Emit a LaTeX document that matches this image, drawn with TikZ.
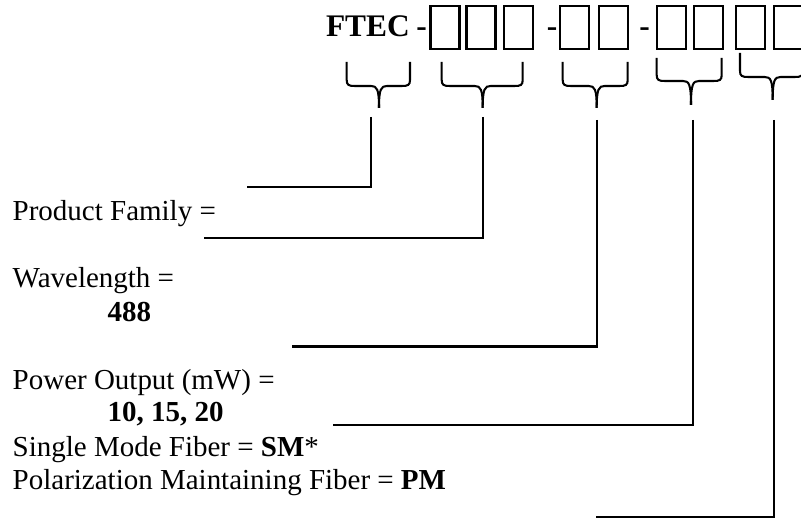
\documentclass[tikz,border=0pt]{standalone}
\usepackage{fontspec}
\setmainfont{Liberation Serif}
\usepackage{tikz}
\definecolor{my_black}{HTML}{000000}

\begin{document}
\begin{tikzpicture}[
    x=0.414pt, y=-0.414pt,
    line width=0.85pt, my_black,
    label_text/.style={anchor=base west, inner sep=0pt, font=\fontsize{12}{14}\selectfont},
    code_text/.style={anchor=base west, inner sep=0pt, font=\fontsize{13}{16}\selectfont\bfseries}
]

% Frame: 801 x 519 px, y counted downwards from the top edge
\useasboundingbox (0,0) rectangle (801,519);

% Part number: FTEC - [][][] - [][] - [][] [][]
\node[code_text] (ftec) at (325,37) {FTEC};
\foreach \dx [count=\i] in {421.5, 552, 644.5}
    \node[code_text, anchor=base] (dash\i) at (\dx,37) {-};

% Empty code boxes (last one runs off the right edge)
\foreach \bx in {430.5, 466.5, 504, 560, 599, 657, 694, 736, 774}
    \draw (\bx,6) rectangle +(29,43);

% Braces under each group:  left x / right x / left top / right top / bottom / tip x / tip y
\foreach \bl/\br/\tl/\tr/\bb/\bm/\tp in {
    346.7/410/62/62/86/379/108,
    441.7/522.7/62/62/86/482.7/108,
    562.7/627.7/62/62/86/596.7/108,
    656.7/721.7/58/58/81/691/105,
    740/803/53/68/77/772.7/100} {
    \draw (\bl,\tl) -- (\bl,\bb-6) .. controls (\bl,\bb-1) and (\bl+2,\bb) .. (\bl+8,\bb)
        -- (\bm-8,\bb) .. controls (\bm-2,\bb) and (\bm,\bb+3) .. (\bm,\tp);
    \draw (\br,\tr) -- (\br,\bb-6) .. controls (\br,\bb-1) and (\br-2,\bb) .. (\br-8,\bb)
        -- (\bm+8,\bb) .. controls (\bm+2,\bb) and (\bm,\bb+3) .. (\bm,\tp);
}

% Descriptions
\node[label_text] (family)    at (11.7,221) {Product Family =};
\node[label_text] (wave)      at (11.7,288) {Wavelength =};
\node[label_text] (wavevals)  at (106.7,322) {\textbf{488}};
\node[label_text] (power)     at (11.7,390) {Power Output (mW) =};
\node[label_text] (powervals) at (106.7,422) {\textbf{10, 15, 20}};
\node[label_text] (smfiber)   at (11.7,457) {Single Mode Fiber = \textbf{SM}*};
\node[label_text] (pmfiber)   at (11.7,490) {Polarization Maintaining Fiber = \textbf{PM}};

% Leader lines: drop from below each brace, then run left
\coordinate (famtop)   at (371,117);   \coordinate (famend)   at (246.7,186.7);
\coordinate (wavetop)  at (482.7,117); \coordinate (waveend)  at (204,238.3);
\coordinate (powtop)   at (596.7,120); \coordinate (powend)   at (292.3,346.5);
\coordinate (fibtop)   at (692.7,120); \coordinate (fibend)   at (332.7,425);
\coordinate (lasttop)  at (774.3,120); \coordinate (lastend)  at (596,516.7);

\draw (famtop) |- (famend);
\draw (wavetop) |- (waveend);
\draw (powtop) |- (powend);
\draw (fibtop) |- (fibend);
\draw (lasttop) |- (lastend);

\end{tikzpicture}
\end{document}
